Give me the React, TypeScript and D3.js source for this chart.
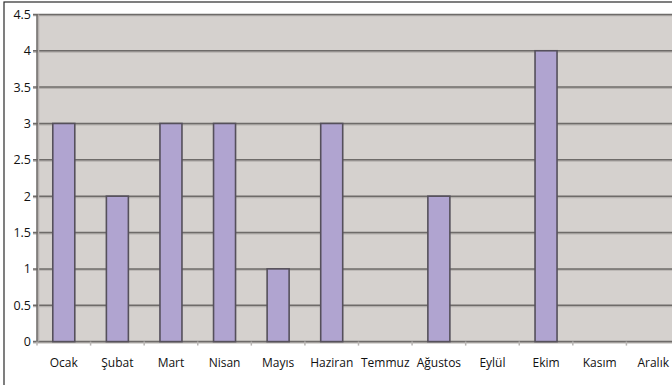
import * as d3 from "d3";

const months = ["Ocak", "Şubat", "Mart", "Nisan", "Mayıs", "Haziran", "Temmuz", "Ağustos", "Eylül", "Ekim", "Kasım", "Aralık"];
const values = [3, 2, 3, 3, 1, 3, 0, 2, 0, 4, 0, 0];
const yTicks = [0, 0.5, 1, 1.5, 2, 2.5, 3, 3.5, 4, 4.5];

export default function App() {
  const width = 672,
    height = 385;
  const plot = { left: 37, right: 680, top: 14.4, bottom: 341.6 };

  const x = d3.scaleBand().domain(months).range([plot.left, plot.right]).paddingInner(0).paddingOuter(0);
  const y = d3.scaleLinear().domain([0, 4.5]).range([plot.bottom, plot.top]);
  const barW = 22;
  const font = "'Open Sans', 'DejaVu Sans', sans-serif";

  return (
    <svg width={width} height={height} style={{ position: "absolute", left: 0, top: 0 }}>
      <rect x={0} y={0} width={width} height={height} fill="#ffffff" />
      {/* outer chart border */}
      <rect x={4} y={2} width={width + 10} height={height + 10} fill="none" stroke="#2a2a2a" strokeWidth={1.2} />
      {/* plot area */}
      <rect x={plot.left} y={plot.top} width={plot.right - plot.left} height={plot.bottom - plot.top} fill="#d5d1ce" />
      {/* gridlines */}
      {yTicks.map((t) => (
        <g key={t}>
          <line x1={plot.left - 4} x2={plot.right} y1={y(t) + 1.2} y2={y(t) + 1.2} stroke="#b5b1ae" strokeWidth={1.5} />
          <line x1={plot.left - 4} x2={plot.right} y1={y(t)} y2={y(t)} stroke="#6e6b69" strokeWidth={1.5} />
          <text x={31} y={y(t)} textAnchor="end" dominantBaseline="central" fontSize={12.5} fontFamily={font} fill="#111">
            {t}
          </text>
        </g>
      ))}
      {/* y axis line */}
      <line x1={plot.left + 1.5} x2={plot.left + 1.5} y1={plot.top} y2={plot.bottom} stroke="#b5b1ae" strokeWidth={1.5} />
      <line x1={plot.left} x2={plot.left} y1={plot.top} y2={plot.bottom} stroke="#6a6765" strokeWidth={1.5} />
      {/* category ticks */}
      {months.map((m, i) => (
        <line
          key={"t" + m}
          x1={plot.left + i * x.step()}
          x2={plot.left + i * x.step()}
          y1={plot.bottom}
          y2={plot.bottom + 4}
          stroke="#b8b5b3"
          strokeWidth={1.5}
        />
      ))}
      {/* bars */}
      {months.map((m, i) => {
        const v = values[i];
        if (!v) return null;
        const cx = (x(m) as number) + x.bandwidth() / 2;
        return (
          <rect
            key={m}
            x={cx - barW / 2}
            y={y(v)}
            width={barW}
            height={plot.bottom - y(v)}
            fill="#b0a4d0"
            stroke="#55505b"
            strokeWidth={1.6}
          />
        );
      })}
      {/* category labels */}
      {months.map((m) => (
        <text
          key={"l" + m}
          x={(x(m) as number) + x.bandwidth() / 2}
          y={362}
          textAnchor="middle"
          dominantBaseline="central"
          fontSize={12}
          fontFamily={font}
          fill="#111"
        >
          {m}
        </text>
      ))}
    </svg>
  );
}
